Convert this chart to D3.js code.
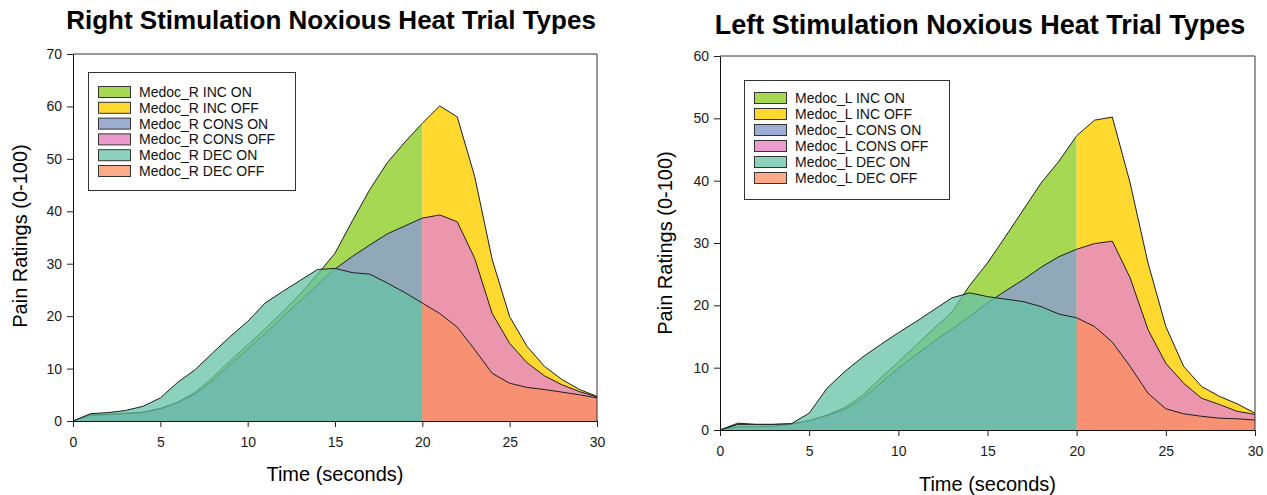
<!DOCTYPE html>
<html>
<head>
<meta charset="utf-8">
<script src="https://cdn.jsdelivr.net/npm/d3@7/dist/d3.min.js"></script>
<style>
body { margin: 0; background: #fff; }
svg { display: block; font-family: Arial, "Liberation Sans", sans-serif; }
</style>
</head>
<body>
<svg id="chart" width="1267" height="495"></svg>
<script>
// time in seconds: stimulation ON part and OFF part
var secondsOn  = [0,1,2,3,4,5,6,7,8,9,10,11,12,13,14,15,16,17,18,19,20];
var secondsOff = [20,21,22,23,24,25,26,27,28,29,30];

// right stimulation
var rIncOn   = [0,1.2,1.3,1.5,1.7,2.4,3.6,5.5,8.3,11.5,14.5,17.6,20.8,24.2,28.0,32.0,38.2,44.2,49.3,53.2,56.8];
var rIncOff  = [56.8,60.1,58.0,46.6,30.8,19.9,14.2,10.4,7.9,6.0,4.7];
var rConsOn  = [0,1.1,1.2,1.4,1.6,2.3,3.5,5.2,7.7,10.8,13.7,16.7,19.8,22.9,26.0,29.0,31.4,33.6,35.7,37.2,38.7];
var rConsOff = [38.7,39.3,38.0,31.0,20.5,14.8,11.1,8.6,6.9,5.6,4.6];
var rDecOn   = [0,1.4,1.6,2.0,2.8,4.4,7.4,9.8,13.0,16.1,19.0,22.5,24.7,26.8,28.9,29.1,28.3,28.0,26.3,24.5,22.5];
var rDecOff  = [22.5,20.5,17.9,13.6,9.1,7.2,6.4,6.0,5.5,5.0,4.4];

// left stimulation
var lIncOn   = [0,1.1,0.9,0.9,1.0,1.5,2.4,3.6,5.6,8.3,10.9,13.6,16.3,18.9,23.2,26.8,31.0,35.3,39.6,43.1,47.2];
var lIncOff  = [47.2,49.7,50.2,39.6,26.8,16.6,10.2,7.0,5.4,4.2,2.7];
var lConsOn  = [0,0.5,0.5,0.6,0.9,1.5,2.3,3.3,5.1,7.5,9.9,12.1,14.2,16.2,18.2,20.4,22.3,24.1,26.1,27.8,29.0];
var lConsOff = [29.0,29.9,30.3,24.4,16.1,10.7,7.5,5.1,4.1,3.0,2.5];
var lDecOn   = [0,0.9,0.9,0.9,1.0,2.7,6.7,9.4,11.7,13.7,15.6,17.4,19.3,21.2,22.0,21.4,21.0,20.6,19.8,18.6,18.0];
var lDecOff  = [18.0,16.6,14.1,10.2,5.9,3.4,2.6,2.2,1.9,1.8,1.6];

var rLabels = ["Medoc_R INC ON","Medoc_R INC OFF","Medoc_R CONS ON","Medoc_R CONS OFF","Medoc_R DEC ON","Medoc_R DEC OFF"];
var lLabels = ["Medoc_L INC ON","Medoc_L INC OFF","Medoc_L CONS ON","Medoc_L CONS OFF","Medoc_L DEC ON","Medoc_L DEC OFF"];

var xTicks  = [0,5,10,15,20,25,30];
var rYTicks = [0,10,20,30,40,50,60,70];
var lYTicks = [0,10,20,30,40,50,60];

var fills   = ["#a6d854","#ffd92f","#8da0cb","#e78ac3","#66c2a5","#fc8d62"];
var opacity = [1,1,0.85,0.85,0.75,0.75];

var svg = d3.select("#chart");

function drawPanel(p) {
    var x = d3.scaleLinear().domain([0,30]).range([p.left, p.right]);
    var y = d3.scaleLinear().domain([0, p.yMax]).range([p.bottom, p.top]);
    var g = svg.append("g");

    var area = d3.area()
        .x(function(d) { return x(d[0]); })
        .y0(y(0))
        .y1(function(d) { return y(d[1]); });
    var line = d3.line()
        .x(function(d) { return x(d[0]); })
        .y(function(d) { return y(d[1]); });

    p.series.forEach(function(vals, i) {
        var times = (i % 2 == 0) ? secondsOn : secondsOff;
        var pts = times.map(function(t, k) { return [t, vals[k]]; });
        g.append("path")
            .attr("d", area(pts))
            .attr("fill", fills[i])
            .attr("fill-opacity", opacity[i]);
        g.append("path")
            .attr("d", line(pts))
            .attr("fill", "none")
            .attr("stroke", "#1e1e1e")
            .attr("stroke-width", 1);
    });

    // top and right frame
    g.append("path")
        .attr("d", "M" + p.left + "," + p.top + "H" + p.right + "V" + p.bottom)
        .attr("fill", "none")
        .attr("stroke", "#333")
        .attr("stroke-width", 1);

    var xAxis = g.append("g")
        .attr("transform", "translate(0," + p.bottom + ")")
        .call(d3.axisBottom(x).tickValues(xTicks).tickSize(6).tickSizeOuter(0).tickPadding(10));
    var yAxis = g.append("g")
        .attr("transform", "translate(" + p.left + ",0)")
        .call(d3.axisLeft(y).tickValues(p.yTicks).tickSize(6).tickSizeOuter(0).tickPadding(5));
    [xAxis, yAxis].forEach(function(a) {
        a.selectAll("text").attr("font-size", "14px").attr("fill", "#1a1a1a").attr("font-family", "Arial, 'Liberation Sans', sans-serif");
        a.selectAll("line").attr("stroke", "#222");
        a.select(".domain").attr("stroke", "#111");
    });

    // title and axis labels
    g.append("text")
        .attr("x", p.titleX).attr("y", p.titleY)
        .attr("text-anchor", "middle")
        .attr("font-weight", "bold")
        .attr("font-size", p.titleSize + "px")
        .text(p.title);
    g.append("text")
        .attr("x", (p.left + p.right) / 2).attr("y", p.xLabelY)
        .attr("text-anchor", "middle")
        .attr("font-size", "20px")
        .text("Time (seconds)");
    g.append("text")
        .attr("transform", "translate(" + p.yLabelX + "," + p.yLabelY + ") rotate(-90)")
        .attr("text-anchor", "middle")
        .attr("font-size", "20px")
        .text("Pain Ratings (0-100)");

    // legend
    var lg = g.append("g").attr("transform", "translate(" + p.legX + "," + p.legY + ")");
    lg.append("rect")
        .attr("x", 0.5).attr("y", 0.5)
        .attr("width", p.legW).attr("height", p.legH)
        .attr("fill", "#fff")
        .attr("stroke", "#333");
    p.labels.forEach(function(lab, i) {
        var cy = p.legRow0 + i * p.legStep;
        lg.append("rect")
            .attr("x", 10.5).attr("y", cy - 5.5)
            .attr("width", 32).attr("height", 11)
            .attr("fill", fills[i])
            .attr("fill-opacity", opacity[i])
            .attr("stroke", "#333");
        lg.append("text")
            .attr("x", 51).attr("y", cy + 5)
            .attr("font-size", "14px")
            .attr("fill", "#111")
            .text(lab);
    });
}

drawPanel({
    title: "Right Stimulation Noxious Heat Trial Types", titleX: 331, titleY: 29, titleSize: 26,
    left: 73, right: 597, top: 54, bottom: 421, yMax: 70, yTicks: rYTicks,
    series: [rIncOn, rIncOff, rConsOn, rConsOff, rDecOn, rDecOff],
    labels: rLabels,
    xLabelY: 481, yLabelX: 27, yLabelY: 236,
    legX: 88, legY: 72, legW: 207, legH: 118, legRow0: 20, legStep: 15.8
});

drawPanel({
    title: "Left Stimulation Noxious Heat Trial Types", titleX: 980, titleY: 34, titleSize: 27,
    left: 720, right: 1255, top: 56, bottom: 430, yMax: 60, yTicks: lYTicks,
    series: [lIncOn, lIncOff, lConsOn, lConsOff, lDecOn, lDecOff],
    labels: lLabels,
    xLabelY: 491, yLabelX: 672, yLabelY: 243,
    legX: 744, legY: 80, legW: 205, legH: 119, legRow0: 18, legStep: 16
});
</script>
</body>
</html>
